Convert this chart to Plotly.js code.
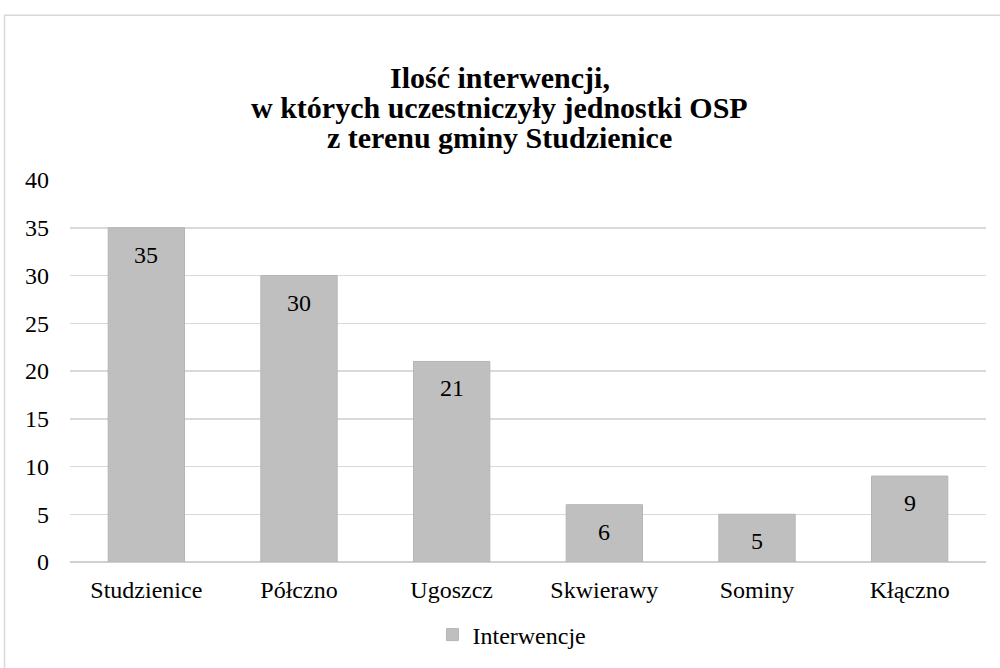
<!DOCTYPE html>
<html>
<head>
<meta charset="utf-8">
<script src="https://cdn.plot.ly/plotly-3.0.1.min.js"></script>
<style>
  html, body { margin: 0; padding: 0; background: #fff; }
  #chart { width: 1000px; height: 668px; }
</style>
</head>
<body>
<div id="chart"></div>
<script>
const categories = ["Studzienice", "Półczno", "Ugoszcz", "Skwierawy", "Sominy", "Kłączno"];
const values = [35, 30, 21, 6, 5, 9];
const seriesName = "Interwencje";
const yTicks = [0, 5, 10, 15, 20, 25, 30, 35, 40];
const titleLines = ["Ilość interwencji,", "w których uczestniczyły jednostki OSP", "z terenu gminy Studzienice"];

const serif = 'Liberation Serif, Times New Roman, serif';

const trace = {
  type: 'bar',
  x: categories,
  y: values,
  name: seriesName,
  marker: { color: '#bfbfbf', line: { color: '#b5b5b5', width: 1 } },
  showlegend: true,
  hoverinfo: 'x+y'
};

const labelAnnotations = categories.map((c, i) => ({
  x: c, y: values[i], xref: 'x', yref: 'y',
  text: String(values[i]),
  showarrow: false, yanchor: 'top', yshift: -12,
  font: { family: serif, size: 24, color: '#000' }
}));

// title lines (tight line spacing as in the reference)
const titleY = [1.269, 1.19, 1.112];
const titleAnnotations = titleLines.map((t, i) => ({
  xref: 'paper', yref: 'paper', x: 0.4694, y: titleY[i],
  xanchor: 'center', yanchor: 'middle',
  text: '<b>' + t + '</b>', showarrow: false,
  font: { family: serif, size: 30, color: '#000' }
}));

const layout = {
  width: 1000, height: 668,
  paper_bgcolor: '#fff', plot_bgcolor: '#fff',
  margin: { l: 70, r: 14, t: 180, b: 105 },
  font: { family: serif, color: '#000' },
  bargap: 0.5,
  xaxis: {
    type: 'category',
    tickfont: { family: serif, size: 24, color: '#000' },
    showgrid: false, showline: false, zeroline: false,
    ticks: 'outside', ticklen: 6, tickcolor: 'rgba(0,0,0,0)'
  },
  yaxis: {
    range: [0, 40],
    tickvals: yTicks,
    ticktext: yTicks.map(String),
    tickfont: { family: serif, size: 24, color: '#000' },
    showgrid: true, gridcolor: '#d9d9d9', gridwidth: 1.5,
    zeroline: true, zerolinecolor: '#d0d0d0', zerolinewidth: 1.5,
    showline: false, ticks: '', ticklabelstandoff: 20
  },
  legend: {
    orientation: 'h', x: 0.4825, xanchor: 'center', y: -0.188, yanchor: 'middle',
    font: { family: serif, size: 24, color: '#000' },
    itemwidth: 30
  },
  annotations: titleAnnotations.concat(labelAnnotations),
  shapes: [{
    type: 'rect', xref: 'paper', yref: 'paper',
    x0: -0.0715, x1: 1.03, y0: -0.3, y1: 1.431,
    line: { color: '#d9d9d9', width: 1.5 }, fillcolor: 'rgba(0,0,0,0)', layer: 'below'
  }]
};

Plotly.newPlot('chart', [trace], layout, { displayModeBar: false, staticPlot: true });
</script>
</body>
</html>
